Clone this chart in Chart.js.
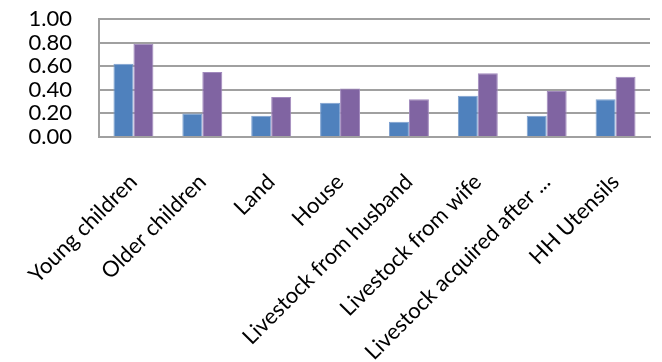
<!DOCTYPE html>
<html>
<head>
<meta charset="utf-8">
<script src="https://cdn.jsdelivr.net/npm/chart.js@4.4.1/dist/chart.umd.min.js"></script>
<style>
  html, body { margin: 0; padding: 0; background: #fff; }
  #wrap { width: 662px; height: 362px; }
</style>
</head>
<body>
<div id="wrap"><canvas id="grafico" width="662" height="362"></canvas></div>
<script>
const categorias = ['Young children', 'Older children', 'Land', 'House', 'Livestock from husband', 'Livestock from wife', 'Livestock acquired after ...', 'HH Utensils']
const serieAzul = [0.62, 0.20, 0.18, 0.29, 0.13, 0.35, 0.18, 0.32]
const serieRoxa = [0.79, 0.55, 0.34, 0.41, 0.32, 0.54, 0.39, 0.51]
const ticksY = [0, 0.2, 0.4, 0.6, 0.8, 1.0]

const fonteY = { family: "Lato, sans-serif", size: 22 }
const fonteX = { family: "Lato, sans-serif", size: 22 }

const chart = new Chart(document.getElementById('grafico'), {
	type: 'bar',
	data: {
		labels: categorias,
		datasets: [
			{
				data: serieAzul,
				backgroundColor: '#4F81BD',
				borderColor: '#7da1d0',
				borderWidth: 1,
				categoryPercentage: 0.58,
				barPercentage: 1
			},
			{
				data: serieRoxa,
				backgroundColor: '#8064A2',
				borderColor: '#a189bd',
				borderWidth: 1,
				categoryPercentage: 0.58,
				barPercentage: 1
			}
		]
	},
	options: {
		responsive: false,
		animation: false,
		layout: { padding: { left: 0, right: 12, top: 19, bottom: 0 } },
		plugins: { legend: { display: false }, tooltip: { enabled: false } },
		scales: {
			x: {
				grid: { display: false, drawTicks: false },
				border: { color: '#a0a0a0', width: 2 },
				ticks: {
					color: '#000',
					font: fonteX,
					minRotation: 45,
					maxRotation: 45,
					autoSkip: false,
					padding: 32,
					labelOffset: 0
				},
				afterFit: s => { s.height = 225; s.paddingLeft = 0; s.paddingRight = 0 }
			},
			y: {
				min: 0,
				max: 1,
				afterBuildTicks: s => { s.ticks = ticksY.map(v => ({ value: v })) },
				grid: { color: '#a0a0a0', lineWidth: 2, drawTicks: false },
				border: { color: '#a0a0a0', width: 2 },
				ticks: {
					color: '#000',
					font: fonteY,
					padding: 27,
					autoSkip: false,
					callback: v => Number(v).toFixed(2)
				},
				afterFit: s => { s.width = 99; s.paddingTop = 0; s.paddingBottom = 0 }
			}
		}
	}
})
</script>
</body>
</html>
